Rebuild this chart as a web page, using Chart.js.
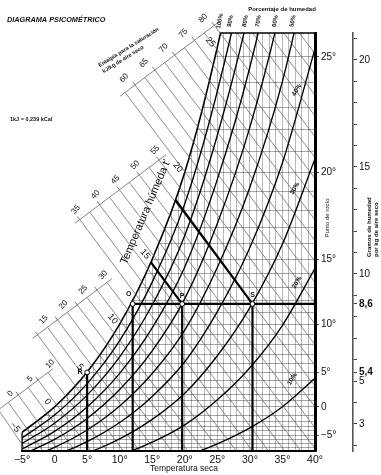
<!DOCTYPE html>
<html><head><meta charset="utf-8">
<script src="https://cdn.jsdelivr.net/npm/chart.js@4.4.1/dist/chart.umd.min.js"></script>
<style>html,body{margin:0;padding:0;background:#fff;}canvas{display:block;}</style>
</head><body>
<canvas id="c" width="381" height="475" style="width:381px;height:475px"></canvas>
<script>
// ---------- DATA ----------
const temps = [-5, 0, 5, 10, 15, 20, 25, 30, 35, 40];
const hum100 = [2.60, 3.79, 5.42, 7.66, 10.69, 14.75, 20.60, 28.10, 38.00, 51.30];
const hum90  = [2.34, 3.41, 4.88, 6.89, 9.62, 13.28, 18.54, 25.29, 34.20, 46.17];
const hum80  = [2.08, 3.03, 4.34, 6.13, 8.55, 11.80, 16.48, 22.48, 30.40, 41.04];
const hum70  = [1.82, 2.65, 3.79, 5.36, 7.48, 10.33, 14.42, 19.67, 26.60, 35.91];
const hum60  = [1.56, 2.27, 3.25, 4.60, 6.41, 8.85, 12.36, 16.86, 22.80, 30.78];
const hum50  = [1.30, 1.90, 2.71, 3.83, 5.35, 7.38, 10.30, 14.05, 19.00, 25.65];
const hum40  = [1.04, 1.52, 2.17, 3.06, 4.28, 5.90, 8.24, 11.24, 15.20, 20.52];
const hum30  = [0.78, 1.14, 1.63, 2.30, 3.21, 4.43, 6.18, 8.43, 11.40, 15.39];
const hum20  = [0.52, 0.76, 1.08, 1.53, 2.14, 2.95, 4.12, 5.62, 7.60, 10.26];
const hum10  = [0.26, 0.38, 0.54, 0.77, 1.07, 1.48, 2.06, 2.81, 3.80, 5.13];
const rhCurves = [hum90, hum80, hum70, hum60, hum50, hum40, hum30, hum20, hum10];

const rhTopLabels = ['100%', '90%', '80%', '70%', '60%', '50%'];
const rhTopLabelT = [25.4, 27.0, 29.3, 31.3, 33.9, 36.6];
const rhSideLabels = ['40%', '30%', '20%', '10%'];
const rhSideLabelT = [37.2, 36.9, 37.2, 36.5];
const rhSideLabelW = [18.6, 14.0, 9.6, 5.1];

const W_MIN = 1.73, W_MAX = 21.26;

// dew-point horizontal grid (g/kg at each dew point)
const dewPointTemps = [-8,-7,-6,-5,-4,-3,-2,-1,0,1,2,3,4,5,6,7,8,9,10,11,12,13,14,15,16,17,18,19,20,21,22,23,24,25];
const dewPointW = [1.88,2.06,2.26,2.47,2.67,2.89,3.13,3.38,3.79,4.07,4.37,4.70,5.04,5.42,5.82,6.24,6.69,7.16,7.66,8.20,8.76,9.36,10.00,10.69,11.41,12.18,12.99,13.85,14.75,15.71,16.73,17.80,18.94,20.15];

const xTicks = [-5,-4,-3,-2,-1,0,1,2,3,4,5,6,7,8,9,10,11,12,13,14,15,16,17,18,19,20,21,22,23,24,25,26,27,28,29,30,31,32,33,34,35,36,37,38,39,40];
const gKgTicks = [2,3,4,5,5.4,6,7,8,8.6,9,10,11,12,13,14,15,16,17,18,19,20,21];
const gKgLabels = {3:'3', 5:'5', 5.4:'5,4', 8.6:'8,6', 10:'10', 15:'15', 20:'20'};

// enthalpy lines (kJ/kg): start on the oblique scale, end at plot edge
const enthalpyH  = [0,2.5,5,7.5,10,12.5,15,17.5,20,22.5,25,27.5,30,32.5,35,37.5,40,42.5,45,47.5,50,52.5,55,57.5,60,62.5,65,67.5,70,72.5,75,77.5,80,82.5,85,87.5,90,92.5];
const enthStartT = [-8.63,-7.11,-5.58,-4.06,-2.54,-1.02,-2.60,-1.08,0.44,1.96,3.48,5.00,6.52,8.04,3.88,5.40,6.92,8.44,9.96,11.48,13.00,14.52,16.04,10.84,12.36,13.88,15.40,16.92,18.44,19.96,21.48,23.00,24.52,28.05,30.44,32.83,35.22,37.61];
const enthStartW = [3.66,4.00,4.35,4.70,5.05,5.40,7.16,7.51,7.86,8.21,8.56,8.90,9.25,9.60,12.54,12.89,13.24,13.59,13.94,14.28,14.63,14.98,15.33,18.48,18.83,19.18,19.53,19.88,20.23,20.57,20.92,21.27,21.62,21.26,21.26,21.26,21.26,21.26];
const enthEndT   = [-4.29,-1.81,0.67,3.14,5.62,8.10,10.58,13.05,15.53,18.01,20.48,22.96,25.44,27.92,30.39,32.87,35.35,37.83,40,40,40,40,40,40,40,40,40,40,40,40,40,40,40,40,40,40,40,40];
const enthEndW   = [1.73,1.73,1.73,1.73,1.73,1.73,1.73,1.73,1.73,1.73,1.73,1.73,1.73,1.73,1.73,1.73,1.73,1.73,1.85,2.82,3.79,4.76,5.73,6.70,7.67,8.64,9.61,10.59,11.56,12.53,13.50,14.47,15.44,16.41,17.38,18.35,19.32,20.29];
const enthLabels = [0,5,10,15,20,25,30,35,40,45,50,55,60,65,70,75,80];

// oblique enthalpy scale segments
const scaleSegStartT = [10.07, 3.13, -3.36, -9.39];
const scaleSegStartW = [18.31, 12.37, 6.99, 3.48];
const scaleSegEndT   = [25.29, 17.10, 8.81, -0.25];
const scaleSegEndW   = [21.79, 15.57, 9.78, 5.57];

// wet-bulb labels on the saturation curve
const wetBulbLabelT = [-5, 0, 5, 10, 15, 20, 25];

// marked states
const pointNames = ['O', 'P', 'S', 'R'];
const pointT = [12, 19.6, 30.4, 5];
const pointW = [8.6, 8.6, 8.6, 5.4];
const wetLineStartT = [14.8, 18.55];   // to P and S
const wetLineStartW = [10.54, 13.47];

// ---------- CHART ----------
Chart.defaults.font.family = "'Liberation Sans', Arial, sans-serif";
Chart.defaults.color = '#111';

const ds = [];
const line = (pts, o) => Object.assign({data: pts, showLine: true, pointRadius: 0, borderColor: '#000', borderWidth: 1.3, fill: false}, o);

ds.push(line(temps.map((t, i) => ({x: t, y: hum100[i]})), {borderWidth: 1.6, cubicInterpolationMode: 'monotone', fill: 'end', backgroundColor: '#fff', order: 20}));
enthalpyH.forEach((h, i) => ds.push(line([{x: enthStartT[i], y: enthStartW[i]}, {x: enthEndT[i], y: enthEndW[i]}], {borderColor: '#666', borderWidth: 0.75, clip: false, order: 15})));
scaleSegStartT.forEach((t, i) => ds.push(line([{x: t, y: scaleSegStartW[i]}, {x: scaleSegEndT[i], y: scaleSegEndW[i]}], {borderColor: '#666', borderWidth: 0.8, clip: false, order: 15})));
rhCurves.forEach(arr => ds.push(line(temps.map((t, i) => ({x: t, y: arr[i]})), {borderWidth: 1.35, cubicInterpolationMode: 'monotone', order: 10})));
// frame pieces
ds.push(line([{x: rhTopLabelT[0], y: W_MAX}, {x: 40, y: W_MAX}], {borderWidth: 1.5, clip: false, order: 3}));
ds.push(line([{x: -5, y: W_MIN}, {x: -5, y: hum100[0]}], {borderWidth: 1.2, clip: false, order: 3}));
// bold construction lines
ds.push(line([{x: pointT[0], y: pointW[0]}, {x: 40, y: pointW[0]}], {borderWidth: 2.2, order: 2}));
pointT.forEach((t, i) => ds.push(line([{x: t, y: pointW[i]}, {x: t, y: W_MIN}], {borderWidth: 2.2, order: 2})));
wetLineStartT.forEach((t, i) => ds.push(line([{x: t, y: wetLineStartW[i]}, {x: pointT[i + 1], y: pointW[i + 1]}], {borderWidth: 2.2, order: 2})));
ds.push({data: pointT.map((t, i) => ({x: t, y: pointW[i]})), showLine: false, pointRadius: 2.4, pointBackgroundColor: '#fff', pointBorderColor: '#000', pointBorderWidth: 1, clip: false, order: 0});

function txt(ctx, s, x, y, font, rot, align, base) {
  ctx.save();
  ctx.translate(x, y);
  ctx.rotate((rot || 0) * Math.PI / 180);
  ctx.font = font;
  ctx.fillStyle = '#111';
  ctx.textAlign = align || 'center';
  ctx.textBaseline = base || 'middle';
  ctx.fillText(s, 0, 0);
  ctx.restore();
}

const textPlugin = {
  id: 'texts',
  afterDraw(chart) {
    const ctx = chart.ctx, X = chart.scales.x, Y = chart.scales.y;
    const F = "'Liberation Sans', Arial, sans-serif";
    txt(ctx, 'DIAGRAMA PSICOMÉTRICO', 7, 20, 'italic bold 7.3px ' + F, 0, 'left');
    txt(ctx, '1kJ = 0,239 kCal', 10, 119, 'bold 5.5px ' + F, 0, 'left');
    txt(ctx, 'Porcentaje de humedad', 282, 9, 'bold 6px ' + F);
    txt(ctx, 'Entalpía para la saturación', 99, 66, 'bold 5.5px ' + F, -32, 'left');
    txt(ctx, 'kJ/kg de aire seco', 103, 72, 'bold 5.5px ' + F, -32, 'left');
    txt(ctx, "Temperatura húmeda t'", X.getPixelForValue(14.0), Y.getPixelForValue(12.9), '11px ' + F, -67);
    // enthalpy scale labels + ticks
    enthLabels.forEach(h => {
      const i = enthalpyH.indexOf(h);
      const x0 = X.getPixelForValue(enthStartT[i]), y0 = Y.getPixelForValue(enthStartW[i]);
      const off = h <= 12.5 ? [12, -16] : h <= 32.5 ? [6, -15] : h <= 55 ? [-4, -10] : [-11, -7];
      ctx.save(); ctx.strokeStyle = '#555'; ctx.lineWidth = 0.8;
      ctx.beginPath(); ctx.moveTo(x0, y0); ctx.lineTo(x0 - 2.4, y0 - 3.2); ctx.stroke(); ctx.restore();
      txt(ctx, String(h), x0 + off[0], y0 + off[1], '8px ' + F, -48);
    });
    // wet-bulb labels on saturation curve
    wetBulbLabelT.forEach(t => {
      const i = temps.indexOf(t);
      txt(ctx, t < 0 ? '−' + Math.abs(t) : String(t), X.getPixelForValue(t) - 7, Y.getPixelForValue(hum100[i]) - 5, '9px ' + F, 50);
    });
    rhTopLabels.forEach((s, i) => txt(ctx, s, X.getPixelForValue(rhTopLabelT[i]), 21, 'bold 6px ' + F, -78));
    rhSideLabels.forEach((s, i) => txt(ctx, s, X.getPixelForValue(rhSideLabelT[i]), Y.getPixelForValue(rhSideLabelW[i]), 'bold 6.5px ' + F, -60));
    const poff = [[-4, -10], [0, -8], [0, -9], [-7, 0]];
    pointNames.forEach((s, i) => txt(ctx, s, X.getPixelForValue(pointT[i]) + poff[i][0], Y.getPixelForValue(pointW[i]) + poff[i][1], 'bold 7px ' + F));
    txt(ctx, 'Punto de rocío', 327, 218, '6px ' + F, -90);
    txt(ctx, 'Gramos de humedad', 369, 257, 'bold 6px ' + F, -90, 'left');
    txt(ctx, 'por kg de aire seco', 376, 257, 'bold 6px ' + F, -90, 'left');
    txt(ctx, 'Temperatura seca', 184, 469, '8.5px ' + F);
  }
};

new Chart(document.getElementById('c'), {
  type: 'scatter',
  data: {datasets: ds},
  options: {
    responsive: false, animation: false, devicePixelRatio: 1,
    layout: {padding: {left: 22, top: 33, right: 0, bottom: 0}},
    plugins: {legend: {display: false}, tooltip: {enabled: false}},
    elements: {line: {tension: 0}},
    scales: {
      x: {
        type: 'linear', min: -5, max: 40, position: 'bottom',
        afterBuildTicks: s => { s.ticks = xTicks.map(v => ({value: v})); },
        afterFit: s => { s.height = 24; },
        ticks: {autoSkip: false, maxRotation: 0, padding: 3, font: {size: 10.5}, color: '#111',
          callback: v => v % 5 !== 0 ? '' : (v === 0 ? '0' : (v < 0 ? '−' + Math.abs(v) + '°' : v + '°'))},
        grid: {color: 'rgba(0,0,0,0.4)', lineWidth: 0.7, drawTicks: false},
        border: {color: '#000', width: 2, z: 1}
      },
      y: {
        type: 'linear', min: W_MIN, max: W_MAX, position: 'right', weight: 0,
        afterBuildTicks: s => { s.ticks = dewPointW.map(v => ({value: v})); },
        afterFit: s => { s.width = 38; },
        ticks: {autoSkip: false, padding: 2, font: {size: 10}, color: '#111',
          callback: (v, i) => { const d = dewPointTemps[i]; return d % 5 !== 0 ? '' : (d === 0 ? '0' : (d < 0 ? '−' + Math.abs(d) + '°' : d + '°')); }},
        grid: {color: 'rgba(0,0,0,0.5)', lineWidth: 0.7, tickLength: 4,
          tickColor: c => (c.tick && dewPointTemps[c.index] % 5 === 0) ? '#000' : 'rgba(0,0,0,0)'},
        border: {color: '#000', width: 3, z: 1}
      },
      y2: {
        type: 'linear', min: W_MIN, max: W_MAX, position: 'right', weight: 1,
        afterBuildTicks: s => { s.ticks = gKgTicks.map(v => ({value: v})); },
        afterFit: s => { s.width = 28; },
        ticks: {autoSkip: false, padding: 2, color: '#111',
          font: c => ({size: 10, weight: (c.tick && (c.tick.value === 5.4 || c.tick.value === 8.6)) ? 'bold' : 'normal'}),
          callback: v => gKgLabels[v] || ''},
        grid: {drawOnChartArea: false, tickLength: 4, tickColor: '#444', tickWidth: 1},
        border: {color: '#555', width: 1.6}
      }
    }
  },
  plugins: [textPlugin]
});
</script>
</body></html>
